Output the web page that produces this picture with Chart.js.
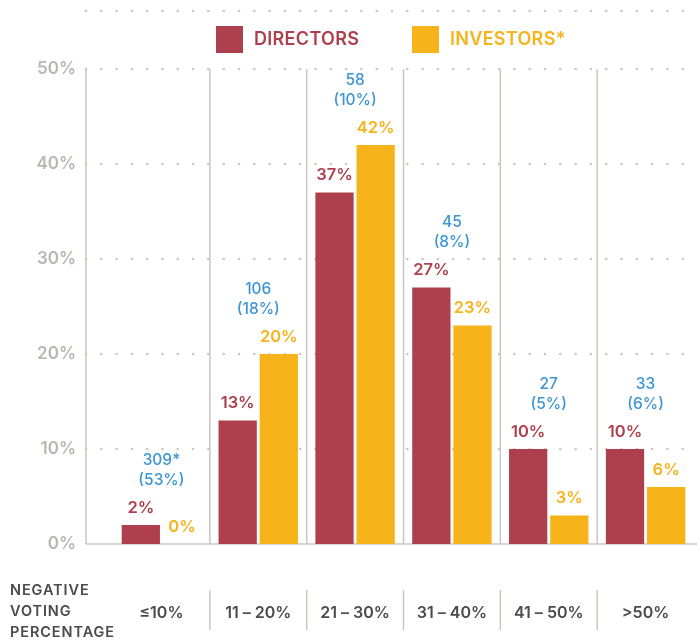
<!DOCTYPE html>
<html><head><meta charset="utf-8">
<script src="https://cdn.jsdelivr.net/npm/chart.js@4"></script>
<style>html,body{margin:0;padding:0;background:#fff}#wrap{width:697px;height:642px;position:relative}</style>
</head><body><div id="wrap"><canvas id="c" width="697" height="642"></canvas></div>
<script>
const categories = ['≤10%', '11 – 20%', '21 – 30%', '31 – 40%', '41 – 50%', '>50%'];
const seriesNames = ['DIRECTORS', 'INVESTORS*'];
const directors = [2, 13, 37, 27, 10, 10];
const investors = [0, 20, 42, 23, 3, 6];
const counts = ['309*', '106', '58', '45', '27', '33'];
const countShares = ['(53%)', '(18%)', '(10%)', '(8%)', '(5%)', '(6%)'];
const yTicks = [0, 10, 20, 30, 40, 50];
const axisTitle = ['NEGATIVE', 'VOTING', 'PERCENTAGE'];

const RED = '#AD404C', GOLD = '#F7B31A', BLUE = '#3D96D3', GRID = '#CBC6BF', TICK = '#BBB6AF', DARK = '#4B4B4B';
const FONT = 'Inter, "Open Sans", sans-serif';

const deco = {
  id: 'deco',
  beforeDatasetsDraw(chart) {
    const ctx = chart.ctx, y = chart.scales.y, x = chart.scales.x;
    const left = 86, right = 697;
    ctx.save();
    ctx.fillStyle = GRID;
    const dotRow = (py) => { for (let px = left; px <= right; px += 15.3) { ctx.beginPath(); ctx.arc(px, py, 1.3, 0, Math.PI * 2); ctx.fill(); } };
    yTicks.forEach(v => { if (v > 0) dotRow(y.getPixelForValue(v)); });
    dotRow(11);
    ctx.strokeStyle = GRID; ctx.lineWidth = 1.5;
    const top = y.getPixelForValue(50), bot = y.getPixelForValue(0);
    const vline = (px, y0, y1) => { ctx.beginPath(); ctx.moveTo(px, y0); ctx.lineTo(px, y1); ctx.stroke(); };
    vline(left, top, bot);
    for (let i = 1; i < categories.length; i++) {
      const bx = (x.getPixelForValue(i - 1) + x.getPixelForValue(i)) / 2;
      vline(bx, top, bot);
      vline(bx, 590, 630);
    }
    ctx.beginPath(); ctx.moveTo(left, bot); ctx.lineTo(right, bot); ctx.stroke();
    ctx.restore();
  },
  afterDatasetsDraw(chart) {
    const ctx = chart.ctx, y = chart.scales.y, x = chart.scales.x;
    ctx.save();
    ctx.textAlign = 'center'; ctx.textBaseline = 'middle';
    ctx.font = '600 16.5px ' + FONT;
    const colors = [RED, GOLD];
    chart.data.datasets.forEach((ds, di) => {
      const meta = chart.getDatasetMeta(di);
      meta.data.forEach((bar, i) => {
        ctx.fillStyle = colors[di];
        ctx.fillText(ds.data[i] + '%', bar.x, bar.y - 17);
      });
    });
    ctx.font = '500 15.5px ' + FONT;
    ctx.fillStyle = BLUE;
    categories.forEach((c, i) => {
      const m = Math.max(directors[i], investors[i]);
      const py = y.getPixelForValue(m) - 45;
      const px = x.getPixelForValue(i);
      ctx.fillText(countShares[i], px, py);
      ctx.fillText(counts[i], px, py - 20);
    });
    // legend
    ctx.textAlign = 'left';
    ctx.font = '600 18px ' + FONT;
    ctx.letterSpacing = '0.3px';
    const lx = [216, 412];
    seriesNames.forEach((n, i) => {
      ctx.fillStyle = colors[i];
      ctx.fillRect(lx[i], 26, 27, 27);
      ctx.fillText(n, lx[i] + 38, 40);
    });
    // axis title
    ctx.font = '600 14.5px ' + FONT;
    ctx.letterSpacing = '0.9px';
    ctx.fillStyle = DARK;
    axisTitle.forEach((t, i) => ctx.fillText(t, 10, 591 + i * 21));
    ctx.restore();
  }
};

new Chart(document.getElementById('c'), {
  type: 'bar',
  data: {
    labels: categories,
    datasets: [
      { label: seriesNames[0], data: directors, backgroundColor: RED },
      { label: seriesNames[1], data: investors, backgroundColor: GOLD }
    ]
  },
  options: {
    responsive: false, animation: false, devicePixelRatio: 1,
    layout: { padding: { top: 69, right: 3, bottom: 22, left: 0 } },
    datasets: { bar: { categoryPercentage: 0.85, barPercentage: 0.93 } },
    plugins: { legend: { display: false }, tooltip: { enabled: false } },
    scales: {
      x: {
        grid: { display: false, drawTicks: false }, border: { display: false },
        afterFit(s) { s.height = 76; s.paddingLeft = 0; s.paddingRight = 0; },
        ticks: { color: DARK, font: { family: FONT, size: 16, weight: '600' }, padding: 60, maxRotation: 0, autoSkip: false }
      },
      y: {
        min: 0, max: 50,
        afterFit(s) { s.width = 113; },
        grid: { display: false, drawTicks: false }, border: { display: false },
        afterBuildTicks(s) { s.ticks = yTicks.map(v => ({ value: v })); },
        ticks: { color: TICK, font: { family: FONT, size: 17, weight: '600' }, padding: 37, callback: v => v + '%' }
      }
    }
  },
  plugins: [deco]
});
</script></body></html>
